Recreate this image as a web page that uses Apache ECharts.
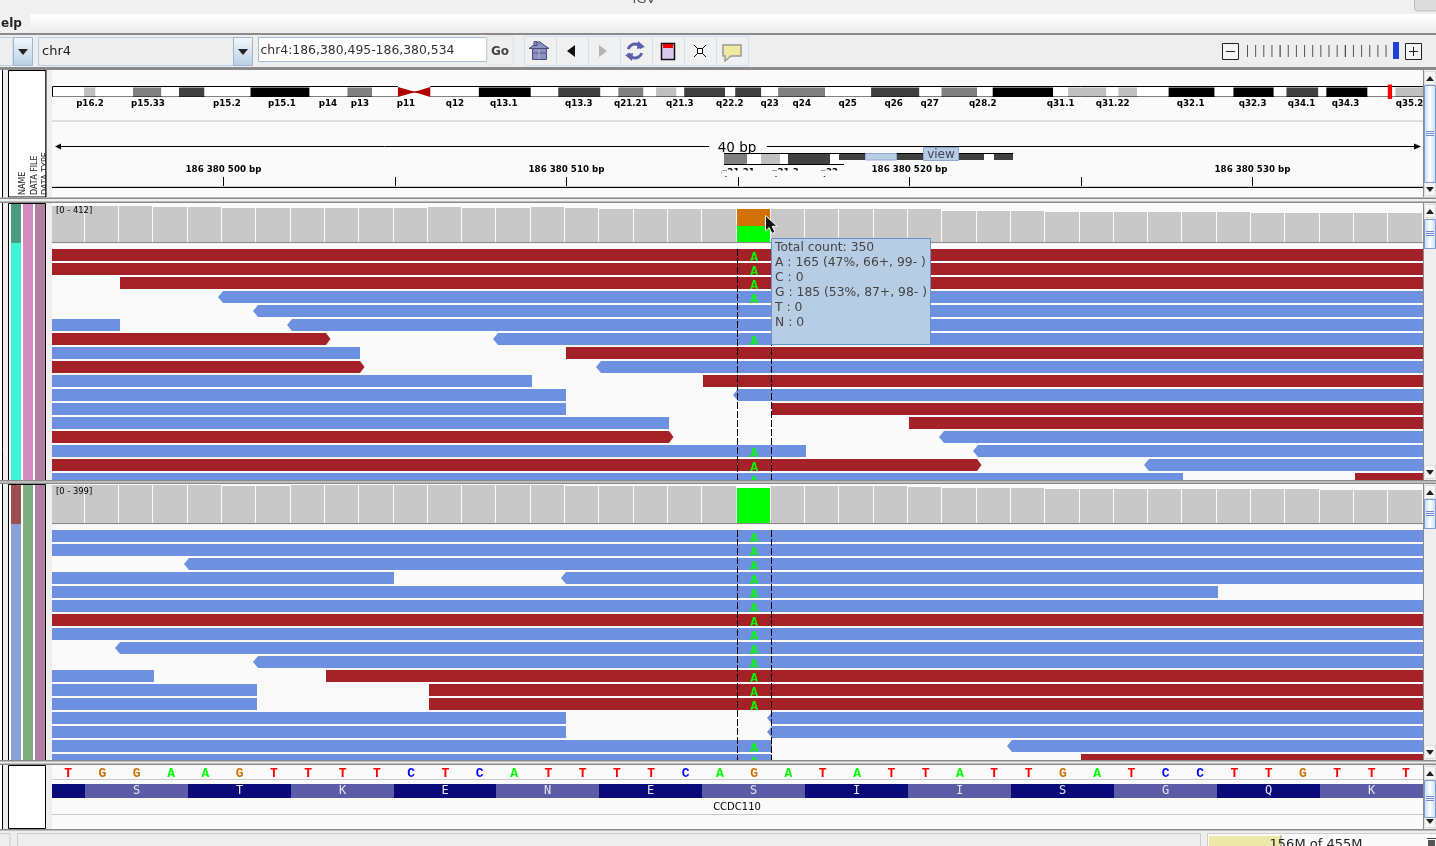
<!DOCTYPE html>
<html><head><meta charset="utf-8">
<style>html,body{margin:0;padding:0;background:#eee;overflow:hidden}#c{width:1436px;height:846px}</style>
<script src="https://cdn.jsdelivr.net/npm/echarts@6/dist/echarts.min.js"></script>
</head><body><div id="c"></div>
<script>
/* ---------- DATA ---------- */
const xBase = 186380000, xMin = 495, xMax = 535;
const rulerTicks = [500,505,510,515,520,525,530];
const rulerLabels = [500,510,520,530];
const chrLength = 191.15;
const cytoBands = [ // Mb start, Mb end, stain
 [0,4.46,0],[4.46,6.06,25],[6.06,11.28,0],[11.28,15.24,50],[15.24,17.69,0],[17.69,21.25,75],[21.25,27.66,0],[27.66,35.89,100],
 [35.89,41.16,0],[41.16,44.61,50],[44.61,48.19,0],[52.70,59.47,0],[59.47,66.71,100],[66.71,70.53,0],[70.53,76.41,75],[76.41,78.90,0],
 [78.90,82.41,50],[82.41,84.16,0],[84.16,87.00,25],[87.00,88.08,0],[88.08,93.77,75],[93.77,95.19,0],[95.19,98.82,75],[98.82,101.17,0],
 [101.17,107.72,50],[107.72,114.12,0],[114.12,120.85,75],[120.85,123.93,0],[123.93,128.90,50],[128.90,131.06,0],[131.06,139.48,100],
 [139.48,141.57,0],[141.57,146.88,25],[146.88,148.58,0],[148.58,151.20,25],[151.20,155.57,0],[155.57,161.98,100],[161.98,164.60,0],
 [164.60,170.22,100],[170.22,171.99,0],[171.99,176.43,75],[176.43,177.55,0],[177.55,183.29,100],[183.29,187.16,0],[187.16,191.15,25]];
const centromere = [48.19,50.45,52.70];
const regionMark = [186.1,186.7];
const cytoLabels = [['p16.2',5.29],['p15.33',13.37],['p15.2',24.37],['p15.1',32.03],['p14',38.44],['p13',42.90],['p11',49.30],['q12',56.13],
 ['q13.1',62.95],['q13.3',73.40],['q21.21',80.64],['q21.3',87.47],['q22.2',94.43],['q23',100.00],['q24',104.46],['q25',110.86],['q26',117.27],
 ['q27',122.28],['q28.2',129.67],['q31.1',140.53],['q31.22',147.77],['q32.1',158.64],['q32.3',167.27],['q34.1',174.09],['q34.3',180.22],['q35.2',189.14]];

const coverage1 = [380,380,380,370,370,359,359,359,359,359,359,370,359,359,370,359,349,349,349,349,350,349,349,349,349,349,327,327,327,317,317,317,317,317,317,306,306,306,306,306];
const coverage2 = [384,384,384,384,384,376,376,384,384,384,384,384,384,384,384,379,379,379,379,379,358,379,379,379,379,373,358,358,358,348,348,348,348,348,348,348,348,338,338,338];
const snp1 = [[515,0,165,'A'],[515,165,350,'G']];
const snp2 = [[515,0,358,'A']];
const range1 = 412, range2 = 399;

// row, start, end, strand
const reads1 = [
 [0,430,560,'+'],[1,430,560,'+'],[2,497,560,'+'],[3,500,560,'-'],[4,501,560,'-'],
 [5,430,497,'-'],[5,502,560,'-'],[6,430,503,'+'],[6,508,560,'-'],[7,430,504,'-'],[7,510,560,'+'],
 [8,430,504,'+'],[8,511,560,'-'],[9,430,509,'-'],[9,514,560,'+'],[10,430,510,'-'],[10,515,560,'-'],
 [11,430,510,'-'],[11,516,560,'+'],[12,430,513,'-'],[12,520,560,'+'],[13,430,513,'+'],[13,521,560,'-'],
 [14,430,517,'-'],[14,522,560,'-'],[15,430,522,'+'],[15,527,560,'-'],[16,430,528,'-'],[16,533,560,'+']];
const reads2 = [
 [0,430,560,'-'],[1,430,560,'-'],[2,499,560,'-'],[3,430,505,'-'],[3,510,560,'-'],[4,430,529,'-'],[5,430,560,'-'],
 [6,430,560,'+'],[7,430,560,'-'],[8,497,560,'-'],[9,501,560,'-'],[10,430,498,'-'],[10,503,560,'+'],
 [11,430,501,'-'],[11,506,560,'+'],[12,430,501,'-'],[12,506,560,'+'],[13,430,510,'-'],[13,516,560,'-'],
 [14,430,510,'-'],[14,516,560,'-'],[15,430,516,'-'],[15,523,560,'-'],[16,430,516,'-'],[16,525,560,'+']];
const mismatchPos = 515;
const mismatchRows1 = [0,1,2,3,6,14,15,16];
const mismatchRows2 = [0,1,2,3,4,5,6,7,8,9,10,11,12,15,16];
const centerLines = [515,516];

const refSequence = 'TGGAAGTTTTCTCATTTTCAGATATTATTGATCCTTGTTT'.split('');
const codons = [[495,496,''],[496,499,'S'],[499,502,'T'],[502,505,'K'],[505,508,'E'],[508,511,'N'],[511,514,'E'],[514,517,'S'],
 [517,520,'I'],[520,523,'I'],[523,526,'S'],[526,529,'G'],[529,532,'Q'],[532,535,'K']];
const geneLabel = ['CCDC110',515];
const tooltipLines = ['Total count: 350','A : 165 (47%, 66+, 99- )','C : 0','G : 185 (53%, 87+, 98- )','T : 0','N : 0'];

/* ---------- STYLE ---------- */
const RED='#a42128', BLUE='#6e90e0', BG='#fafafa', CHROME='#eeeeee', SEP='#8a8a8a', GREY='#c8c8c8';
const baseColor={A:'#00ff00',C:'#0000ff',G:'#d17105',T:'#ff0000'};
const stain={0:'#ffffff',25:'#c0c0c0',50:'#808080',75:'#404040',100:'#000000'};
const SANS='"DejaVu Sans"', MONO='"Liberation Mono"';

/* ---------- GRIDS ---------- */
const L=51,W=1372;
const grids=[
 {left:52,width:W,top:70,height:51},    // 0 ideogram
 {left:52,width:W,top:122,height:64},   // 1 ruler
 {left:L,width:W,top:203,height:39},    // 2 coverage 1
 {left:L,width:W,top:248,height:232},   // 3 reads 1
 {left:L,width:W,top:484,height:39},    // 4 coverage 2
 {left:L,width:W,top:529,height:231},   // 5 reads 2
 {left:L,width:W,top:765,height:64}     // 6 sequence
].map(g=>Object.assign(g,{show:true,backgroundColor:BG,borderWidth:0,containLabel:false}));
const hiddenX=i=>({type:'value',gridIndex:i,min:xMin,max:xMax,interval:5,show:false});
const xAxes=[
 {type:'value',gridIndex:0,min:0,max:chrLength,show:false},
 {type:'value',gridIndex:1,min:xMin,max:xMax,interval:5,position:'bottom',
  axisLine:{show:false},splitLine:{show:false},
  axisTick:{show:true,inside:true,length:9,customValues:rulerTicks,lineStyle:{color:'#000',width:1}},
  axisLabel:{show:true,inside:true,margin:12,hideOverlap:false,customValues:rulerLabels,color:'#000',fontFamily:SANS,fontWeight:'bold',fontSize:8.7,
   formatter:v=>{ const s=String(xBase+v); return s.slice(0,3)+' '+s.slice(3,6)+' '+s.slice(6)+' bp';}}},
 hiddenX(2),hiddenX(3),hiddenX(4),hiddenX(5),hiddenX(6)];
const yAxes=[
 {type:'value',gridIndex:0,min:-2.4,max:2.7,show:false},
 {type:'value',gridIndex:1,min:0,max:1,show:false},
 {type:'value',gridIndex:2,min:0,max:range1,show:false},
 {type:'value',gridIndex:3,min:0,max:232/14,inverse:true,show:false},
 {type:'value',gridIndex:4,min:0,max:range2,show:false},
 {type:'value',gridIndex:5,min:0,max:231/14,inverse:true,show:false},
 {type:'value',gridIndex:6,min:0,max:64,inverse:true,show:false}];

/* ---------- SERIES ---------- */
const custom=(i,arr,render,extra)=>Object.assign({type:'custom',xAxisIndex:i,yAxisIndex:i,silent:true,animation:false,
  encode:{x:0,y:1},data:arr.map(()=>[0,0]),renderItem:(p,api)=>render(arr[p.dataIndex],p.dataIndex,api)},extra||{});
const rect=(x,y,w,h,fill,stroke)=>({type:'rect',shape:{x,y,width:w,height:h},style:{fill,stroke:stroke||null,lineWidth:1}});
const text=(t,x,y,fill,size,family,weight)=>({type:'text',style:{text:t,x,y,fill,fontSize:size,fontFamily:family,fontWeight:weight||'normal',align:'center',verticalAlign:'middle'}});

function covBar(){return (c,i,api)=>{
  const a=api.coord([xMin+i,0]),b=api.coord([xMin+i+1,c]);
  const x0=Math.floor(a[0]),x1=Math.floor(api.coord([xMin+i+1,0])[0]);
  return rect(x0,Math.round(b[1]),x1-x0-1,Math.round(a[1])-Math.round(b[1]),GREY);
};}
function snpBar(d,i,api){
  const a=api.coord([d[0],d[1]]),b=api.coord([d[0]+1,d[2]]);
  const x0=Math.floor(a[0]),x1=Math.floor(b[0]);
  return rect(x0,Math.round(b[1]),x1-x0-1,Math.round(a[1])-Math.round(b[1]),baseColor[d[3]]);
}
function readShape(d,i,api){
  const y0=Math.round(api.coord([d[1],d[0]+.0714])[1]),y1=Math.round(api.coord([d[1],d[0]+.9286])[1]);
  const x0=Math.round(api.coord([d[1],0])[0]+.8),x1=Math.round(api.coord([d[2],0])[0]+.4);
  const m=(y0+y1)/2;
  const pts=d[3]==='-'
    ?[[x0,y0],[x1,y0],[x1,y1],[x0,y1],[x0-5,m]]
    :[[x0,y0],[x1,y0],[x1+4.5,m],[x1,y1],[x0,y1]];
  return {type:'polygon',shape:{points:pts},style:{fill:d[3]==='-'?BLUE:RED}};
}
function mismatchA(r,i,api){
  const c=api.coord([mismatchPos+.5,r+.5]);
  return text('A',c[0],c[1]+2.5,baseColor.A,13,MONO,'bold');
}
const dashLines=(gi)=>({type:'custom',xAxisIndex:gi,yAxisIndex:gi,silent:true,animation:false,encode:{x:0,y:1},
  data:centerLines.map(v=>[v,0]),z:6,renderItem:(p,api)=>{
    const x=Math.floor(api.coord([centerLines[p.dataIndex],0])[0])+.5, r=p.coordSys;
    return {type:'line',shape:{x1:x,y1:r.y+1,x2:x,y2:r.y+r.height},style:{stroke:'#000',lineWidth:1,lineDash:[7,2]}};
  }});

const series=[
 // ideogram
 custom(0,[[0,chrLength]],(d,i,api)=>{
   const a=api.coord([d[0],0]),b=api.coord([d[1],1]);
   return rect(52.5,Math.round(b[1])-.5,1372-1,Math.round(a[1])-Math.round(b[1]),null,'#000');
 },{z:2}),
 custom(0,cytoBands,(d,i,api)=>{
   const a=api.coord([d[0],0.05]),b=api.coord([d[1],0.95]);
   return rect(Math.max(a[0],53),b[1],b[0]-Math.max(a[0],53),a[1]-b[1],stain[d[2]]);
 },{z:3}),
 custom(0,[centromere],(d,i,api)=>{
   const l=api.coord([d[0],1.05])[0],m=api.coord([d[1],1.05])[0],r=api.coord([d[2],1.05])[0];
   const t=api.coord([d[0],1.1])[1],b=api.coord([d[0],-.1])[1],c=(t+b)/2;
   return {type:'group',children:[
     rect(l,t,r-l,b-t,BG),
     {type:'polygon',shape:{points:[[l,t+1],[l+14,c-1],[m,c-.8],[m,c+.8],[l+14,c+1],[l,b-1]]},style:{fill:'#b00000'}},
     {type:'polygon',shape:{points:[[r,t+1],[r-13,c-1],[m,c-.8],[m,c+.8],[r-13,c+1],[r,b-1]]},style:{fill:'#b00000'}}]};
 },{z:4}),
 custom(0,[regionMark],(d,i,api)=>{
   const a=api.coord([d[0],-.2]),b=api.coord([d[1],1.25]);
   return rect(a[0],b[1],Math.max(b[0]-a[0],4),a[1]-b[1],'#ff0000');
 },{z:5}),
 custom(0,cytoLabels,(d,i,api)=>{
   const c=api.coord([d[1],-.68]);
   return text(d[0],c[0],c[1],'#000',8.7,SANS,'bold');
 },{z:5,clip:true}),
 custom(1,[],()=>null),
 // coverage 1
 custom(2,coverage1,covBar(),{z:2}),
 custom(2,snp1,snpBar,{z:3}),
 // reads 1
 custom(3,reads1,readShape,{z:2,clip:true}),
 custom(3,mismatchRows1,mismatchA,{z:4,clip:true}),
 dashLines(3),
 // coverage 2
 custom(4,coverage2,covBar(),{z:2}),
 custom(4,snp2,snpBar,{z:3}),
 // reads 2
 custom(5,reads2,readShape,{z:2,clip:true}),
 custom(5,mismatchRows2,mismatchA,{z:4,clip:true}),
 dashLines(5),
 // sequence
 custom(6,refSequence,(b,i,api)=>{
   const c=api.coord([xMin+i+.5,9]);
   return text(b,c[0],c[1],baseColor[b],13,MONO,'bold');
 },{z:3}),
 custom(6,codons,(d,i,api)=>{
   const a=api.coord([d[0],19]),b=api.coord([d[1],33]);
   const x0=Math.floor(a[0]),x1=Math.floor(b[0]);
   return {type:'group',children:[
     rect(x0,a[1],x1-x0,b[1]-a[1],i%2?'#5c5ca6':'#0a0a78'),
     text(d[2],(x0+x1)/2,(a[1]+b[1])/2,'#e4e4ee',12,'"DejaVu Sans Mono"')]};
 },{z:3}),
 custom(6,[geneLabel],(d,i,api)=>{
   const c=api.coord([d[1],42.2]);
   return text(d[0],c[0],c[1],'#000',10,SANS);
 },{z:3})
];

/* ---------- WINDOW CHROME ---------- */
const G=[];
const R=(x,y,w,h,fill,stroke,lw)=>G.push({type:'rect',silent:true,shape:{x,y,width:w,height:h},style:{fill:fill||null,stroke:stroke||null,lineWidth:lw||1}});
const LN=(x1,y1,x2,y2,c,lw,dash)=>G.push({type:'line',silent:true,shape:{x1,y1,x2,y2},style:{stroke:c,lineWidth:lw||1,lineDash:dash||null}});
const P=(pts,fill,stroke,lw)=>G.push({type:'polygon',silent:true,shape:{points:pts},style:{fill:fill||null,stroke:stroke||null,lineWidth:lw||1}});
const T=(t,x,y,o)=>{o=o||{};G.push({type:'text',silent:true,x,y,rotation:o.rot||0,style:{text:t,x:0,y:0,fill:o.fill||'#000',
  fontSize:o.size||12,fontFamily:o.fam||SANS,fontWeight:o.w||'normal',align:o.align||'left',verticalAlign:'middle'}});};
const vGrad=(a,b)=>({type:'linear',x:0,y:0,x2:0,y2:1,colorStops:[{offset:0,color:a},{offset:1,color:b}]});
const hGrad=(a,b,c)=>({type:'linear',x:0,y:0,x2:1,y2:0,colorStops:[{offset:0,color:a},{offset:.5,color:b},{offset:1,color:c}]});
const BTN=vGrad('#f4f8fc','#b8cfe5');

// title + menu bars
R(0,0,1436,14,'#f0f0f0');
T('IGV',644,0,{fill:'#555',size:13,align:'center'});
G.push({type:'rect',silent:true,shape:{x:1414.5,y:-3,width:25,height:14,r:3},style:{fill:'#dcdcdc',stroke:'#bbb'}});
R(0,14,30,19,'#f0f0f0');R(30,14,1406,19,vGrad('#ffffff','#ececec'));
T('elp',1,24,{size:12,w:'bold',fill:'#222'});
R(0,33,1436,2,SEP);R(0,35,1436,32,CHROME);R(0,67,1436,3,SEP);
// combos
const tri=(cx,cy,c)=>P([[cx-5,cy-3],[cx+5,cy-3],[cx,cy+3]],c||'#222');
R(-2,37.5,15,28,CHROME,'#b8cfe5');R(13.5,37.5,19,28,BTN,'#9fb8d2');tri(23,52);
R(38.5,37.5,195,28,CHROME,'#b8cfe5');R(233.5,37.5,19,28,BTN,'#9fb8d2');tri(243,52);
T('chr4',42,51.5,{size:13,fill:'#222'});
R(258.5,37.5,228,24,'#fff','#a5bbd8');
T('chr4:186,380,495-186,380,534',260.5,50.5,{size:12.4,fill:'#333'});
R(487,36,26,29,'#efefef','#e0e0e0');T('Go',500,52,{size:12,w:'bold',fill:'#444',align:'center'});
// icon buttons
[524.5,556.5,588.5,620.5,652.5,684.5,716.5].forEach(x=>R(x,36.5,32,29,'#f0f0f0','#d3e0ee'));
P([[529,48.5],[539,41.5],[549,48.5]],'#8a90c0','#444a80');R(534,41.5,3,4,'#8a90c0','#444a80');
R(532.5,48.5,14,11,'#8a90c0','#444a80');LN(532,53,547,53,'#555a90');LN(539,49,539,59,'#bbb');
P([[567,51],[575,45],[575,57]],'#111');
P([[599,45],[607,51],[599,57]],'#b4b4b4');
G.push({type:'arc',silent:true,shape:{cx:635,cy:51,r:7,startAngle:3.4,endAngle:5.9},style:{stroke:'#5a60a8',lineWidth:3,fill:null}});
G.push({type:'arc',silent:true,shape:{cx:635,cy:51,r:7,startAngle:0.3,endAngle:2.8},style:{stroke:'#5a60a8',lineWidth:3,fill:null}});
P([[638,41],[645,47],[637,49]],'#5a60a8');P([[632,61],[625,55],[633,53]],'#5a60a8');
R(661.5,43.5,13,16,'#d8c8ec','#111',1.5);R(663,44,10,4,'#f00000');
LN(694,45,698,49,'#111');LN(706,45,702,49,'#111');LN(694,57,698,53,'#111');LN(706,57,702,53,'#111');
R(697.5,48.5,5,5,'#fff','#111');
P([[723,45],[741,45],[741,56],[731,56],[725,61],[725,56],[723,56]],'#efe9a4','#999',1.5);
// zoom slider
R(1222.5,43.5,16,16,'#f6f6f6','#222');LN(1226,51.5,1235,51.5,'#222');
for(let k=0;k<18;k++){const x=1247.5+k*8.15;LN(x,45,x,57,k%8===4?'#222':'#555');}
R(1393,42,6,17,'#2040d8');
R(1405.5,43.5,16,16,'#f6f6f6','#222');LN(1409,51.5,1418,51.5,'#222');LN(1413.5,47,1413.5,56,'#222');

// left strip
R(0,70,2.5,760,'#ffffff');LN(2.5,70,2.5,829,'#000');
R(3,70,5.5,760,CHROME);
// header names box
R(8.5,70.5,37.5,126.5,'#fff','#000');
const v=(t,x)=>T(t,x,195,{size:8,rot:Math.PI/2,fill:'#222'});
v('NAME',22.5);v('DATA FILE',34.5);v('DATA TYPE',45.5);
// panel name/attribute columns
const attr=(y0,split,y1,c1a,c1b,c2,c3)=>{
  R(8.5,y0+.5,37,y1-y0,'#fff','#000');
  R(11,y0+1,10,split-y0-1,c1a);R(11,split,10,y1-split,c1b);
  R(23,y0+1,10,y1-y0-1,c2);R(35,y0+1,10,y1-y0-1,c3);
};
attr(203,243,480,'#4a9b7f','#3df5d5','#d48bbf','#ae7f9f');
attr(484,524,760,'#9e5050','#8aa0d8','#7fae7f','#ae7f9f');
R(8.5,765.5,37,63,'#fff','#000');
// cover between the names and the data panels
R(46,70,6,760,CHROME);
LN(46,70,46,197,'#000');
// ideogram / ruler separators
R(52,120.5,1372,1,'#c8c8d0');
R(52,186,1372,1,'#c8c8d0');R(52,187,1372,1,'#000');R(52,188,1372,9,BG);
// ruler line
LN(60,146.5,709,146.5,'#000');LN(767,146.5,1415,146.5,'#000');
P([[55,146.5],[61,143.5],[61,149.5]],'#000');P([[1421,146.5],[1414,143.5],[1414,149.5]],'#000');
T('40 bp',737,148,{size:13.5,align:'center'});
// detached ideogram fragment left on screen
T('q21.21',738,172.5,{size:8.7,w:'bold',align:'center'});T('q21.3',785,172.5,{size:8.7,w:'bold',align:'center'});T('q22',829,172.5,{size:8.7,w:'bold',align:'center'});
R(722,170.6,125,5.6,BG);
R(724,153,289,1,'#000');
R(724,164,120,1,'#000');
[[724,747,'#808080',10],[747,761,'#fff',10],[761,780,'#c0c0c0',10],[780,788,'#fff',10],[788,830,'#404040',10],[830,839,'#fff',10],
 [839,865,'#404040',6],[897,923,'#404040',6],[958,984,'#404040',6],[984,994,'#fff',6],[994,1013,'#404040',6]].forEach(s=>R(s[0],154,s[1]-s[0],s[3],s[2]));
R(865.5,153.5,31,6.5,'#b7cde4','#8fa8cc');
R(923.5,147.5,35,13,'#b7cde4','#8fa8cc');T('view',941,155,{size:12,fill:'#445',align:'center'});
// coverage baselines and gaps
R(52,242,1372,1.2,SEP);R(52,243.2,1372,4.8,BG);
R(52,523,1372,1.2,SEP);R(52,524.2,1372,4.8,BG);
T('[0 - 412]',56,211,{size:8.4});T('[0 - 399]',56,492,{size:8.4});
// sequence rules
R(52,779,1372,1,'#c8c8d0');R(52,814,1372,1,'#c8c8d0');
// horizontal separators
const sep=(y0,y1)=>{R(0,y0,1436,y1-y0,CHROME);R(0,y0,1436,1.4,SEP);R(0,y1-1.4,1436,1.4,SEP);};
sep(197.6,203);sep(480,484);sep(760,765);
R(0,829,1436,17,CHROME);R(0,829,1436,1.6,SEP);
// scrollbars
const scroll=(y0,y1,th0,th1)=>{
  R(1423,y0,13,y1-y0,CHROME);R(1423,y0,1,y1-y0,SEP);
  R(1424.5,y0+1.5,11,13,'#f6f6f6','#ddd');P([[1426,y0+11],[1434,y0+11],[1430,y0+6]],'#222');
  R(1424.5,y1-14.5,11,13,'#f6f6f6','#ddd');P([[1426,y1-10],[1434,y1-10],[1430,y1-5]],'#222');
  R(1424.5,th0+.5,11,th1-th0,hGrad('#c4d6ee','#ffffff','#c4d6ee'),'#7a9bd0');
  const m=(th0+th1)/2;[-2,0,2].forEach(o=>LN(1426,m+o,1434,m+o,'#6d8fce'));
};
scroll(70,197,85,182);scroll(203,480,219,248);scroll(484,760,499,528);scroll(765,829,780,817);
// status bar
R(-1,833.5,11,14,'#eee','#ccc');R(17.5,833.5,1183,14,'#eee','#ccc');
R(1207.5,833.5,230,14,'#fafafa','#ccc');R(1209,836,72.5,11,'#ece8a8');
LN(1281,835,1281,846,'#999');
T('156M of 455M',1316,845,{size:13,fill:'#222',align:'center'});
R(1428,840,7,7,'#555');LN(1427,838.5,1436,838.5,'#444');
// popup
R(771.5,238.5,159,106,'#b7cde4','#6d8fc8');
tooltipLines.forEach((s,i)=>T(s,775,247.5+15*i,{size:12.35,fill:'#444'}));
// mouse pointer
P([[765.5,215.5],[765.5,231],[769.2,227.6],[772,233.5],[775,232],[772.2,226.4],[777,226.2]],'#111','#fff',1);
G.forEach(e=>{e.z=100;});

const chart=echarts.init(document.getElementById('c'),null,{width:1436,height:846});
chart.setOption({backgroundColor:CHROME,animation:false,tooltip:{show:false},
  grid:grids,xAxis:xAxes,yAxis:yAxes,series,graphic:{elements:G}});
</script></body></html>
